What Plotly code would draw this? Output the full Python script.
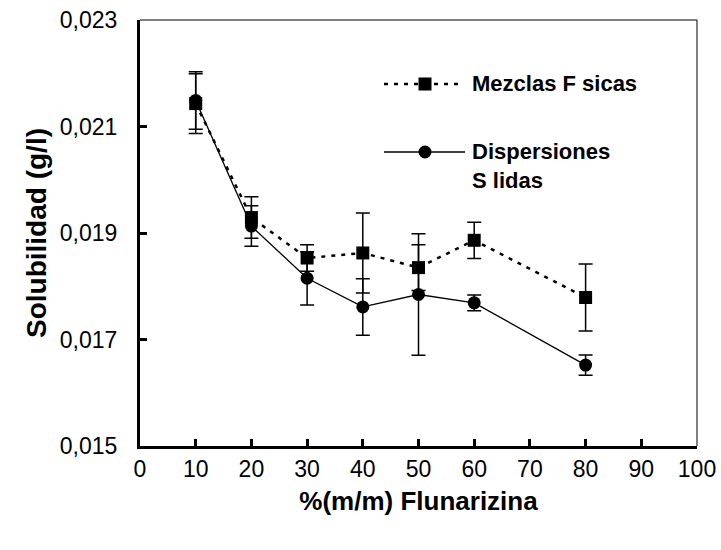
import plotly.graph_objects as go

x_vals = [10, 20, 30, 40, 50, 60, 80]
mezclas = [0.02143, 0.01929, 0.01853, 0.018625, 0.01835, 0.018863, 0.017789]
mezclas_err = [0.00056, 0.00039, 0.00025, 0.00075, 0.00043, 0.00034, 0.00063]
dispersiones = [0.02149, 0.01913, 0.01815, 0.017612, 0.017845, 0.017688, 0.016519]
dispersiones_err = [0.00054, 0.00038, 0.00050, 0.00053, 0.00114, 0.00015, 0.00019]

x_ticks = [0, 10, 20, 30, 40, 50, 60, 70, 80, 90, 100]
y_ticks = [0.015, 0.017, 0.019, 0.021, 0.023]

FONT = "Liberation Sans, Arial, sans-serif"

fig = go.Figure()

fig.add_trace(go.Scatter(
    x=x_vals, y=dispersiones, mode="lines+markers", name="Dispersiones Sólidas",
    line=dict(color="black", width=1.3),
    marker=dict(symbol="circle", size=13, color="black"),
    error_y=dict(type="data", array=dispersiones_err, visible=True,
                 color="black", thickness=1.5, width=7),
    showlegend=False,
))
fig.add_trace(go.Scatter(
    x=x_vals, y=mezclas, mode="lines+markers", name="Mezclas Físicas",
    line=dict(color="black", width=2.5, dash="4px,6px"),
    marker=dict(symbol="square", size=13, color="black"),
    error_y=dict(type="data", array=mezclas_err, visible=True,
                 color="black", thickness=1.5, width=7),
    showlegend=False,
))

L, R, T, B = 140, 24, 20, 104
W, H = 721, 550
pw, ph = W - L - R, H - T - B

def px(xp):
    return (xp - L) / pw

def py(yp):
    return (H - B - yp) / ph

shapes = [
    dict(type="line", xref="paper", yref="paper", x0=0, x1=1, y0=1, y1=1,
         line=dict(color="black", width=1)),
    dict(type="line", xref="paper", yref="paper", x0=1, x1=1, y0=0, y1=1,
         line=dict(color="black", width=1)),
    # legend: Mezclas
    dict(type="line", xref="paper", yref="paper", x0=px(384), x1=px(460),
         y0=py(84), y1=py(84), line=dict(color="black", width=2.5, dash="4px,6px")),
    dict(type="rect", xref="paper", yref="paper", xsizemode="pixel", ysizemode="pixel",
         xanchor=px(425), yanchor=py(84), x0=-6.5, x1=6.5, y0=-6.5, y1=6.5,
         fillcolor="black", line=dict(width=0)),
    # legend: Dispersiones
    dict(type="line", xref="paper", yref="paper", x0=px(384), x1=px(465),
         y0=py(152), y1=py(152), line=dict(color="black", width=1.3)),
    dict(type="circle", xref="paper", yref="paper", xsizemode="pixel", ysizemode="pixel",
         xanchor=px(425), yanchor=py(152), x0=-6.5, x1=6.5, y0=-6.5, y1=6.5,
         fillcolor="black", line=dict(width=0)),
]

annotations = [
    dict(x=px(470), y=py(84), xref="paper", yref="paper", xanchor="left", yanchor="middle",
         text="<b>Mezclas F sicas</b>", showarrow=False,
         font=dict(family=FONT, size=22, color="black")),
    dict(x=px(470), y=py(137), xref="paper", yref="paper", xanchor="left", yanchor="top",
         text="<b>Dispersiones<br>S lidas</b>", showarrow=False, align="left",
         font=dict(family=FONT, size=22, color="black")),
]

fig.update_layout(
    width=W, height=H,
    margin=dict(l=L, r=R, t=T, b=B),
    paper_bgcolor="white", plot_bgcolor="white",
    separators=",.",
    font=dict(family=FONT, size=24, color="black"),
    shapes=shapes, annotations=annotations,
    showlegend=False,
)
fig.update_xaxes(
    range=[0, 100], tickvals=x_ticks, ticktext=[str(v) for v in x_ticks],
    ticks="inside", ticklen=7, tickwidth=3, tickcolor="black",
    showline=True, linewidth=3, linecolor="black", showgrid=False, zeroline=False,
    tickfont=dict(family=FONT, size=23), automargin=False,
    title=dict(text="<b>%(m/m) Flunarizina</b>", font=dict(family=FONT, size=26), standoff=12),
)
fig.update_yaxes(
    range=[0.015, 0.023], tickvals=y_ticks, tickformat=".3f",
    ticks="inside", ticklen=7, tickwidth=3, tickcolor="black",
    showline=True, linewidth=3, linecolor="black", showgrid=False, zeroline=False,
    tickfont=dict(family=FONT, size=23), ticklabelstandoff=15, automargin=False,
    title=dict(text="<b>Solubilidad (g/l)</b>", font=dict(family=FONT, size=28), standoff=6),
)

fig.write_html("out.html", config={"displayModeBar": False},
               post_script="document.body.style.margin='0px';")
